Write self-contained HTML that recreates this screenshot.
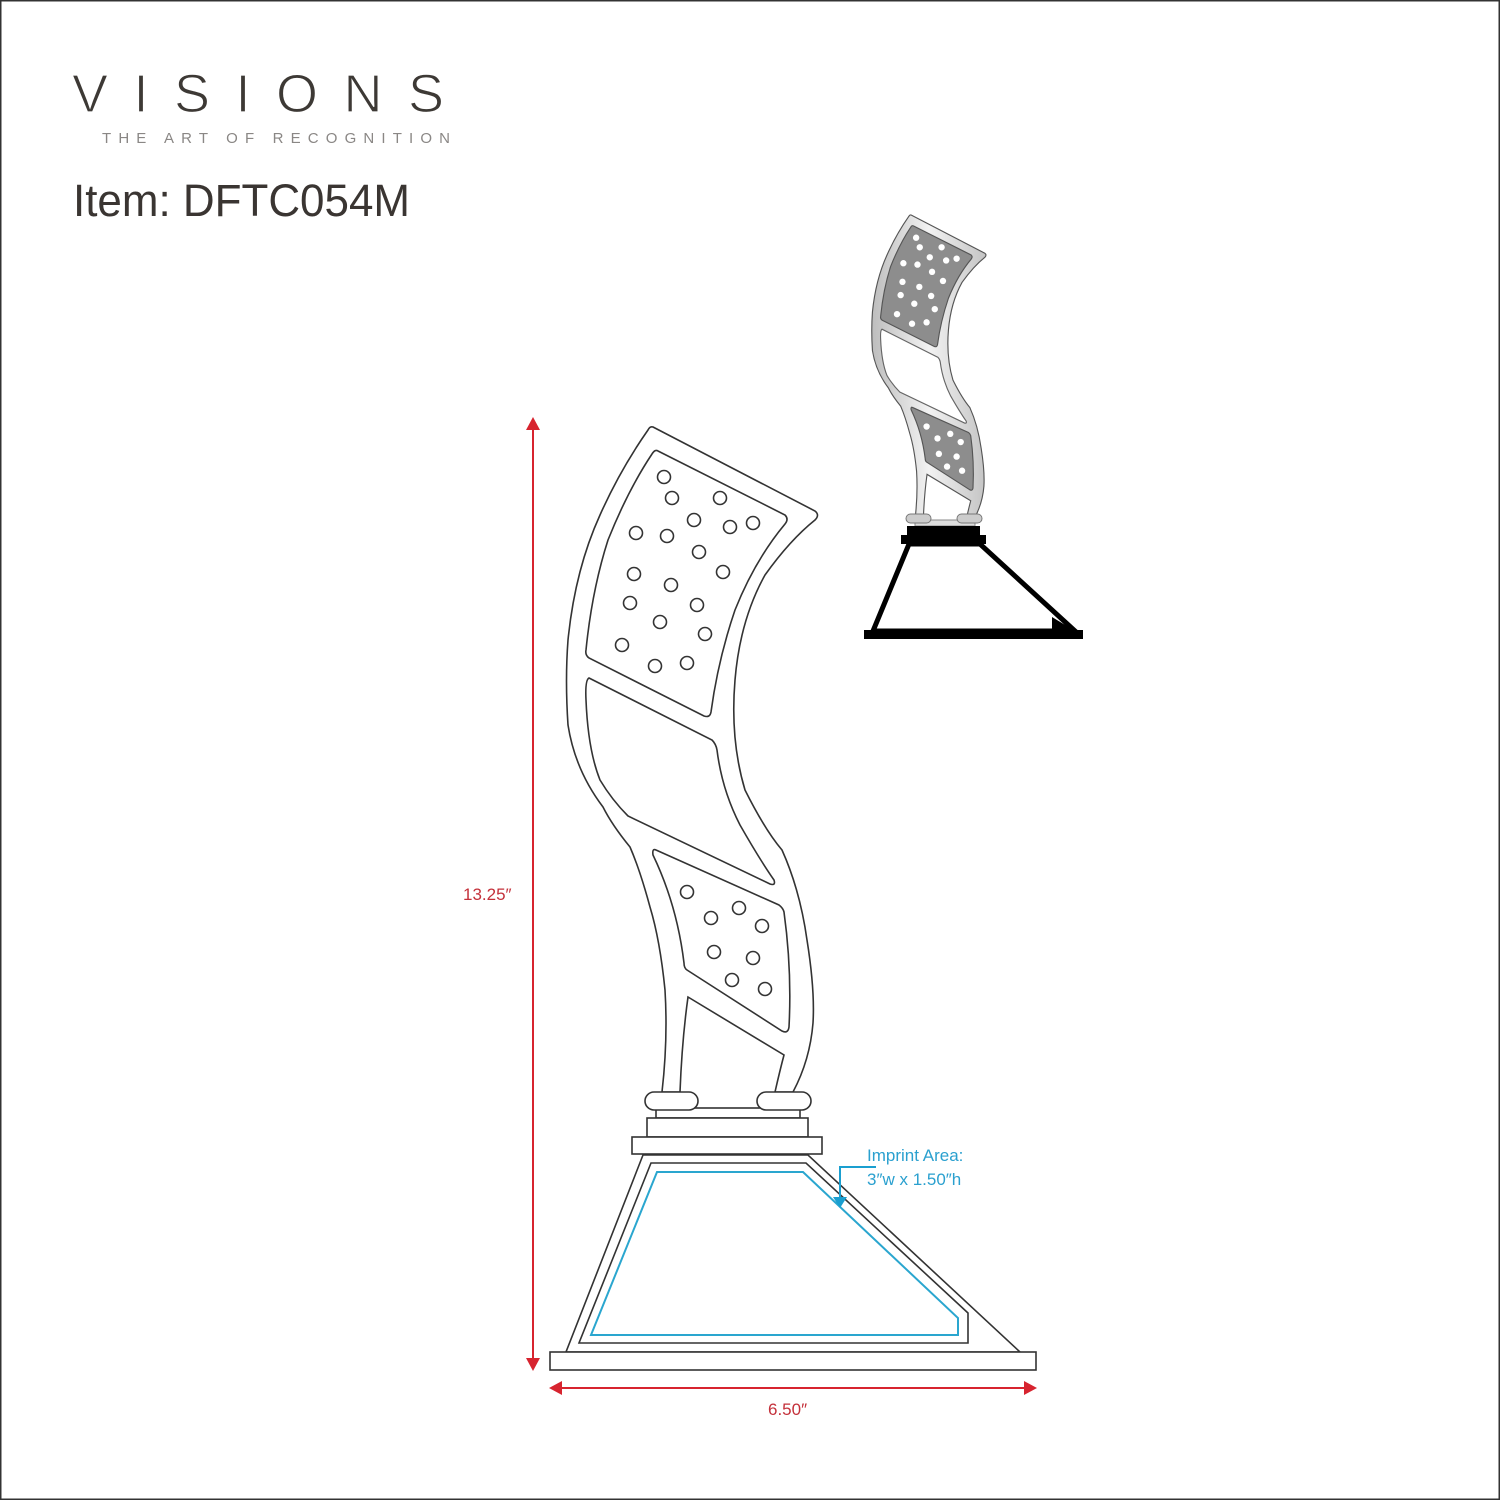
<!DOCTYPE html>
<html><head><meta charset="utf-8"><style>
html,body{margin:0;padding:0;background:#fff}
svg{display:block}
</style></head><body>
<svg width="1500" height="1500" viewBox="0 0 1500 1500" xmlns="http://www.w3.org/2000/svg">
<defs>
<linearGradient id="fr" x1="0" y1="0" x2="1" y2="0">
<stop offset="0" stop-color="#bdbdbd"/><stop offset="0.5" stop-color="#f2f2f2"/><stop offset="1" stop-color="#c4c4c4"/>
</linearGradient>
<g id="upright">
<path id="outer" d="M653,427 L815,511 Q820,515 815,520 Q790,540 765,575 Q740,620 735,680 Q730,740 745,790 Q765,830 782,850 Q800,890 807,940 Q815,990 813,1023 Q810,1060 793,1092 L775,1092 Q780,1070 784,1055 L688,997 Q682,1040 680,1092 L662,1092 Q668,1040 665,990 Q660,940 650,907 Q640,870 630,847 Q612,825 603,807 Q575,770 568,725 Q565,680 568,640 Q575,570 600,515 Q620,470 648,430 Q650,426 653,427 Z"/>
<path id="p1" d="M658,451 L785,515 Q789,519 785,524 Q755,560 735,610 Q718,660 711,712 Q710,718 704,716 L589,658 Q585,655 586,650 Q592,590 608,540 Q628,490 652,454 Q655,449 658,451 Z"/>
<path id="p2" d="M589,678 L712,740 Q716,744 717,750 Q722,790 740,825 Q760,860 774,880 Q776,886 770,884 L628,816 Q612,800 600,780 Q588,750 586,700 Q585,680 589,678 Z"/>
<path id="p3" d="M656,850 L779,905 Q783,908 784,912 Q792,970 789,1027 Q788,1034 782,1031 L687,970 Q684,968 684,963 Q677,905 653,855 Q652,848 656,850 Z"/>
</g>
</defs>
<rect x="0.5" y="0.5" width="1499" height="1499" fill="#fff" stroke="#333" stroke-width="2"/>

<!-- logo -->
<text x="72" y="112" font-family="Liberation Sans, sans-serif" font-size="54" fill="#3d3935" stroke="#fff" stroke-width="1.2" textLength="372" lengthAdjust="spacing">VISIONS</text>
<text x="102" y="143" font-family="Liberation Sans, sans-serif" font-size="15" fill="#8a8785" textLength="348" lengthAdjust="spacing">THE ART OF RECOGNITION</text>
<text x="73" y="216" font-family="Liberation Sans, sans-serif" font-size="45" fill="#3a3532" textLength="337" lengthAdjust="spacingAndGlyphs">Item: DFTC054M</text>

<!-- small trophy -->
<g transform="translate(614,20.7) scale(0.455)">
<use href="#outer" fill="url(#fr)" stroke="#555" stroke-width="2.5"/>
<use href="#p1" fill="#8d8d8d" stroke="#555" stroke-width="2.5"/>
<use href="#p2" fill="#fff" stroke="#666" stroke-width="2.5"/>
<use href="#p3" fill="#8d8d8d" stroke="#555" stroke-width="2.5"/>
<g fill="#fff">
<circle cx="664" cy="477" r="7"/><circle cx="672" cy="498" r="7"/><circle cx="720" cy="498" r="7"/><circle cx="694" cy="520" r="7"/><circle cx="730" cy="527" r="7"/><circle cx="753" cy="523" r="7"/><circle cx="636" cy="533" r="7"/><circle cx="667" cy="536" r="7"/><circle cx="699" cy="552" r="7"/><circle cx="634" cy="574" r="7"/><circle cx="671" cy="585" r="7"/><circle cx="723" cy="572" r="7"/><circle cx="630" cy="603" r="7"/><circle cx="697" cy="605" r="7"/><circle cx="660" cy="622" r="7"/><circle cx="705" cy="634" r="7"/><circle cx="622" cy="645" r="7"/><circle cx="655" cy="666" r="7"/><circle cx="687" cy="663" r="7"/>
<circle cx="687" cy="892" r="7"/><circle cx="711" cy="918" r="7"/><circle cx="739" cy="908" r="7"/><circle cx="762" cy="926" r="7"/><circle cx="714" cy="952" r="7"/><circle cx="753" cy="958" r="7"/><circle cx="732" cy="980" r="7"/><circle cx="765" cy="989" r="7"/>
</g>
</g>
<rect x="915" y="520" width="60" height="6" fill="#ddd" stroke="#888"/>
<rect x="906" y="514" width="25" height="9" rx="4.5" fill="#ccc" stroke="#777"/>
<rect x="957" y="514" width="25" height="9" rx="4.5" fill="#ccc" stroke="#777"/>
<rect x="907" y="526" width="73" height="10" fill="#000"/>
<rect x="901" y="535" width="85" height="9" fill="#000"/>
<polygon points="909,544 980,544 1075,631 873,631" fill="none" stroke="#000" stroke-width="5" stroke-linejoin="miter"/>
<polygon points="1052,617 1052,631 1075,631" fill="#000"/>
<rect x="864" y="630" width="219" height="9" fill="#000"/>

<!-- main trophy -->
<g fill="#fff" stroke="#333" stroke-width="1.6">
<use href="#outer"/><use href="#p1"/><use href="#p2"/><use href="#p3"/>
<g>
<circle cx="664" cy="477" r="6.5"/><circle cx="672" cy="498" r="6.5"/><circle cx="720" cy="498" r="6.5"/><circle cx="694" cy="520" r="6.5"/><circle cx="730" cy="527" r="6.5"/><circle cx="753" cy="523" r="6.5"/><circle cx="636" cy="533" r="6.5"/><circle cx="667" cy="536" r="6.5"/><circle cx="699" cy="552" r="6.5"/><circle cx="634" cy="574" r="6.5"/><circle cx="671" cy="585" r="6.5"/><circle cx="723" cy="572" r="6.5"/><circle cx="630" cy="603" r="6.5"/><circle cx="697" cy="605" r="6.5"/><circle cx="660" cy="622" r="6.5"/><circle cx="705" cy="634" r="6.5"/><circle cx="622" cy="645" r="6.5"/><circle cx="655" cy="666" r="6.5"/><circle cx="687" cy="663" r="6.5"/>
<circle cx="687" cy="892" r="6.5"/><circle cx="711" cy="918" r="6.5"/><circle cx="739" cy="908" r="6.5"/><circle cx="762" cy="926" r="6.5"/><circle cx="714" cy="952" r="6.5"/><circle cx="753" cy="958" r="6.5"/><circle cx="732" cy="980" r="6.5"/><circle cx="765" cy="989" r="6.5"/>
</g>
<rect x="656" y="1108" width="144" height="10"/>
<rect x="645" y="1092" width="53" height="18" rx="9"/>
<rect x="757" y="1092" width="54" height="18" rx="9"/>
<rect x="647" y="1118" width="161" height="19"/>
<rect x="632" y="1137" width="190" height="17"/>
<polygon points="643,1155 808,1155 1020,1352 566,1352"/>
<polygon points="651,1163 806,1163 968,1313 968,1343 579,1343"/>
<rect x="550" y="1352" width="486" height="18"/>
</g>
<polygon points="657,1172 803,1172 958,1318 958,1335 591,1335" fill="none" stroke="#2aa6cf" stroke-width="2"/>
<polyline points="876,1167 840,1167 840,1200" fill="none" stroke="#1a9fd0" stroke-width="2"/>
<polygon points="833,1197 847,1197 840,1208" fill="#1a9fd0"/>
<text x="867" y="1161" font-family="Liberation Sans, sans-serif" font-size="17" fill="#2aa0cf">Imprint Area:</text>
<text x="867" y="1185" font-family="Liberation Sans, sans-serif" font-size="17" fill="#2aa0cf">3″w x 1.50″h</text>

<!-- dimensions -->
<g fill="#d7242f" stroke="none">
<rect x="532" y="426" width="2" height="936"/>
<polygon points="533,417 526,430 540,430"/>
<polygon points="533,1371 526,1358 540,1358"/>
<rect x="560" y="1387" width="466" height="2"/>
<polygon points="549,1388 562,1381 562,1395"/>
<polygon points="1037,1388 1024,1381 1024,1395"/>
</g>
<text x="463" y="900" font-family="Liberation Sans, sans-serif" font-size="17" fill="#c4303a">13.25″</text>
<text x="768" y="1415" font-family="Liberation Sans, sans-serif" font-size="17" fill="#c4303a">6.50″</text>
</svg>
</body></html>
